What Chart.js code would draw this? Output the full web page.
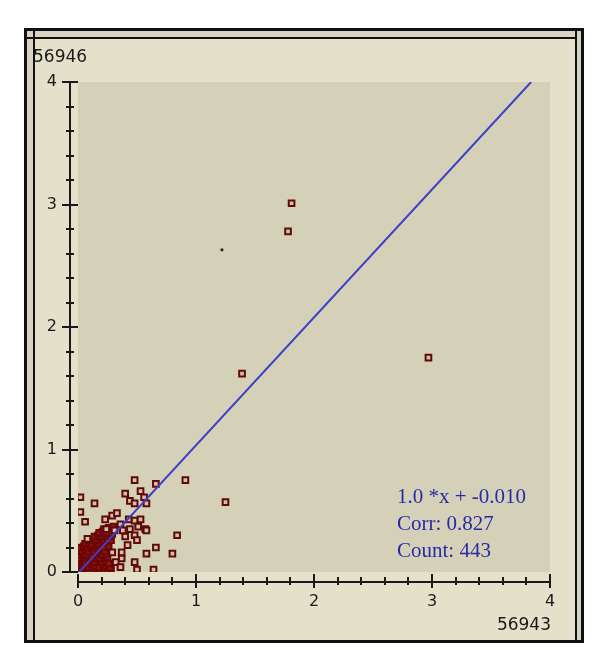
<!DOCTYPE html>
<html>
<head>
<meta charset="utf-8">
<script src="https://cdn.jsdelivr.net/npm/chart.js@4.4.0/dist/chart.umd.min.js"></script>
<style>
  html, body { margin: 0; padding: 0; background: #fff; }
  canvas { display: block; }
</style>
</head>
<body>
<canvas id="myChart" width="600" height="652"></canvas>
<script>
const xTicks = [0, 1, 2, 3, 4]
const yTicks = [0, 1, 2, 3, 4]
const xTitle = '56943'
const yTitle = '56946'
const fitText = ['1.0 *x + -0.010', 'Corr: 0.827', 'Count: 443']

// regression line as drawn
const fitX = [0, 3.84]
const fitY = [-0.01, 4.0]

// points far from the cluster
const outlierX = [1.81, 1.78, 2.97, 1.39]
const outlierY = [3.01, 2.78, 1.75, 1.62]
const dotX = [1.22]
const dotY = [2.63]

// spread around the cluster
const spreadX = [0.48, 0.66, 0.91, 0.02, 0.14, 0.02, 0.06, 0.40, 0.44, 0.53, 0.56, 0.48, 0.58, 1.25, 0.29,
  0.33, 0.23, 0.43, 0.48, 0.53, 0.36, 0.51, 0.44, 0.57, 0.84, 0.48, 0.40, 0.50, 0.42, 0.66,
  0.58, 0.80, 0.37, 0.48, 0.50, 0.64, 0.37, 0.32, 0.36, 0.29, 0.08, 0.24, 0.31, 0.38, 0.58]
const spreadY = [0.75, 0.72, 0.75, 0.61, 0.56, 0.49, 0.41, 0.64, 0.58, 0.66, 0.61, 0.56, 0.56, 0.57, 0.46,
  0.48, 0.43, 0.43, 0.42, 0.43, 0.39, 0.37, 0.35, 0.35, 0.30, 0.30, 0.29, 0.26, 0.22, 0.20,
  0.15, 0.15, 0.16, 0.08, 0.02, 0.02, 0.11, 0.08, 0.04, 0.16, 0.27, 0.35, 0.34, 0.34, 0.34]

// dense block near the origin
const clusterX = [0.01, 0.03, 0.05, 0.08, 0.10, 0.13, 0.16, 0.19, 0.22, 0.25, 0.28,
  0.02, 0.04, 0.07, 0.09, 0.12, 0.15, 0.18, 0.21, 0.24, 0.27,
  0.01, 0.04, 0.06, 0.09, 0.11, 0.14, 0.17, 0.20, 0.23, 0.26,
  0.02, 0.05, 0.08, 0.10, 0.13, 0.16, 0.19, 0.22, 0.25,
  0.01, 0.04, 0.07, 0.10, 0.12, 0.15, 0.18, 0.21, 0.24,
  0.03, 0.06, 0.09, 0.12, 0.14, 0.17, 0.20, 0.23,
  0.02, 0.05, 0.08, 0.11, 0.14, 0.16, 0.19, 0.22, 0.26,
  0.06, 0.09, 0.12, 0.15, 0.18, 0.21, 0.24,
  0.10, 0.13, 0.16, 0.19, 0.22, 0.25, 0.28,
  0.14, 0.17, 0.20, 0.23, 0.27,
  0.18, 0.21, 0.25, 0.29,
  0.22, 0.26, 0.30]
const clusterY = [0.02, 0.01, 0.03, 0.02, 0.01, 0.02, 0.03, 0.01, 0.02, 0.01, 0.03,
  0.05, 0.06, 0.05, 0.04, 0.06, 0.05, 0.04, 0.06, 0.05, 0.04,
  0.08, 0.09, 0.08, 0.07, 0.09, 0.08, 0.10, 0.08, 0.09, 0.07,
  0.11, 0.12, 0.11, 0.13, 0.11, 0.12, 0.11, 0.13, 0.12,
  0.14, 0.15, 0.14, 0.16, 0.14, 0.15, 0.16, 0.14, 0.15,
  0.17, 0.18, 0.17, 0.19, 0.17, 0.18, 0.19, 0.17,
  0.20, 0.21, 0.20, 0.22, 0.20, 0.21, 0.22, 0.20, 0.21,
  0.23, 0.24, 0.23, 0.25, 0.23, 0.24, 0.25,
  0.26, 0.27, 0.26, 0.28, 0.26, 0.27, 0.26,
  0.29, 0.30, 0.29, 0.31, 0.29,
  0.32, 0.33, 0.32, 0.31,
  0.35, 0.36, 0.37]

const toPoints = (xs, ys) => xs.map((x, i) => ({ x: x, y: ys[i] }))

const sansFont = 'DejaVu Sans'

const panePlugin = {
  id: 'pane',
  beforeDraw(chart) {
    const ctx = chart.ctx
    const a = chart.chartArea
    ctx.save()
    ctx.fillStyle = '#ffffff'
    ctx.fillRect(0, 0, chart.width, chart.height)
    // window frame
    ctx.fillStyle = '#d6d3c3'
    ctx.fillRect(24, 28, 560, 615)
    ctx.fillStyle = '#e4e0c9'
    ctx.fillRect(34, 38, 541, 602)
    ctx.strokeStyle = '#111111'
    ctx.lineWidth = 3
    ctx.strokeRect(25.5, 29.5, 557, 612)
    ctx.lineWidth = 2
    ctx.beginPath()
    ctx.moveTo(34, 29); ctx.lineTo(34, 641)
    ctx.moveTo(25, 38); ctx.lineTo(576, 38)
    ctx.moveTo(576, 29); ctx.lineTo(576, 641)
    ctx.stroke()
    // plot area
    ctx.fillStyle = '#d5d1b9'
    ctx.fillRect(a.left, a.top, a.right - a.left, a.bottom - a.top)
    ctx.restore()
  },
  afterDraw(chart) {
    const ctx = chart.ctx
    const a = chart.chartArea
    const xs = chart.scales.x
    const ys = chart.scales.y
    const axisX = a.left - 8
    const axisY = a.bottom + 10
    ctx.save()
    ctx.strokeStyle = '#1a1a1a'
    ctx.lineWidth = 2
    ctx.beginPath()
    ctx.moveTo(axisX, ys.getPixelForValue(4)); ctx.lineTo(axisX, ys.getPixelForValue(0))
    ctx.moveTo(xs.getPixelForValue(0), axisY); ctx.lineTo(xs.getPixelForValue(4), axisY)
    for (let k = 0; k <= 20; k++) {
      const v = k / 5
      const major = k % 5 === 0
      const py = Math.round(ys.getPixelForValue(v))
      const px = Math.round(xs.getPixelForValue(v))
      if (major) {
        ctx.moveTo(axisX - 8, py); ctx.lineTo(axisX + 8, py)
        ctx.moveTo(px, axisY - 8); ctx.lineTo(px, axisY + 6)
      } else {
        ctx.moveTo(axisX - 4, py); ctx.lineTo(axisX + 4, py)
        ctx.moveTo(px, axisY - 5); ctx.lineTo(px, axisY + 3)
      }
    }
    ctx.stroke()

    // axis titles
    ctx.fillStyle = '#1a1a1a'
    ctx.font = '17px "' + sansFont + '"'
    ctx.textBaseline = 'middle'
    ctx.textAlign = 'left'
    ctx.fillText(yTitle, 33, 58)
    ctx.textAlign = 'right'
    ctx.fillText(xTitle, 551, 626)

    // fit summary
    ctx.fillStyle = '#2a2aa6'
    ctx.font = '21px "Liberation Serif"'
    ctx.textAlign = 'left'
    ctx.textBaseline = 'alphabetic'
    fitText.forEach((t, i) => ctx.fillText(t, 397, 503 + i * 27))
    ctx.restore()
  }
}

const pointStyle = {
  pointStyle: 'rect',
  pointRadius: 4,
  pointHoverRadius: 4,
  pointBorderWidth: 2,
  pointBorderColor: '#5c0c08',
  pointBackgroundColor: '#dcbcaa',
  showLine: false
}

let myChart = new Chart(document.getElementById('myChart'), {
  type: 'scatter',
  data: {
    datasets: [
      {
        data: toPoints(fitX, fitY),
        showLine: true,
        borderColor: '#3e3ec8',
        borderWidth: 2,
        pointRadius: 0
      },
      { data: toPoints(outlierX, outlierY), ...pointStyle },
      { data: toPoints(spreadX, spreadY), ...pointStyle },
      { data: toPoints(clusterX, clusterY), ...pointStyle, pointBorderColor: '#6e0606', pointBackgroundColor: '#8a1a12' },
      { data: toPoints(dotX, dotY), pointRadius: 1.6, pointBorderWidth: 0, pointBackgroundColor: '#2a2a1a' }
    ]
  },
  options: {
    responsive: false,
    animation: false,
    devicePixelRatio: 1,
    layout: { padding: { left: 0, top: 82, right: 50, bottom: 0 } },
    plugins: { legend: { display: false }, tooltip: { enabled: false } },
    scales: {
      x: {
        type: 'linear', min: 0, max: 4,
        afterFit(scale) { scale.height = 80 },
        afterBuildTicks(scale) { scale.ticks = xTicks.map(v => ({ value: v })) },
        grid: { display: false, drawTicks: false },
        border: { display: false },
        ticks: { padding: 20, color: '#1a1a1a', maxRotation: 0, font: { family: sansFont, size: 16 } }
      },
      y: {
        type: 'linear', min: 0, max: 4,
        afterFit(scale) { scale.width = 78 },
        afterBuildTicks(scale) { scale.ticks = yTicks.map(v => ({ value: v })) },
        grid: { display: false, drawTicks: false },
        border: { display: false },
        ticks: { padding: 21, color: '#1a1a1a', font: { family: sansFont, size: 16 } }
      }
    }
  },
  plugins: [panePlugin]
})
</script>
</body>
</html>
